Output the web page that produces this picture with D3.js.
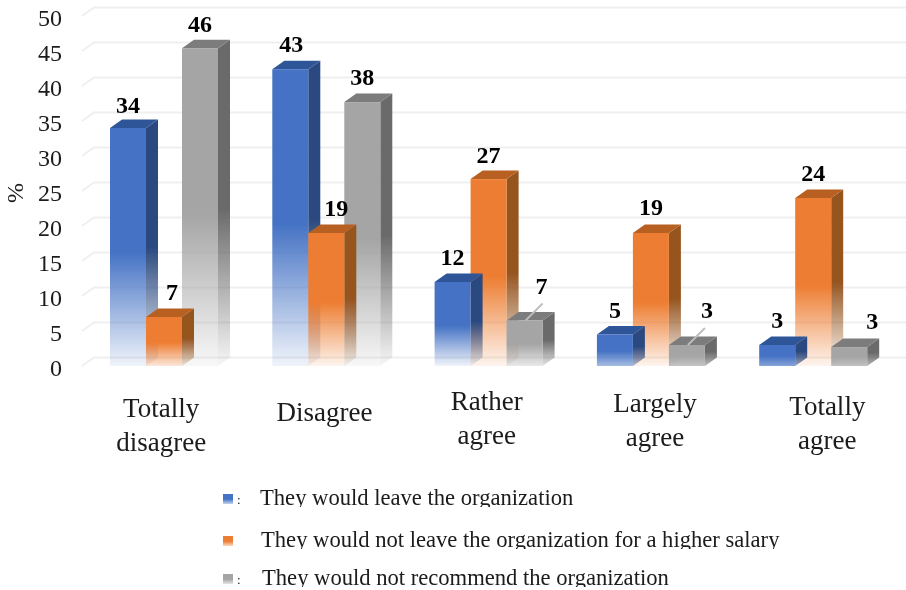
<!DOCTYPE html>
<html>
<head>
<meta charset="utf-8">
<script src="https://cdn.jsdelivr.net/npm/d3@7"></script>
<style>
html,body{margin:0;padding:0;background:#fff;}
svg{display:block;}
text{font-family:"Liberation Serif","Times New Roman",serif;fill:#1a1a1a;}
</style>
</head>
<body>
<svg id="chart" width="906" height="590"></svg>
<script>
const categories = ["Totally disagree", "Disagree", "Rather agree", "Largely agree", "Totally agree"];
const seriesNames = [
  "They would leave the organization",
  "They would not leave the organization for a higher salary",
  "They would not recommend the organization"
];
// heights of the bars as drawn
const leaveValues = [34, 42.4, 12, 4.5, 3];
const stayValues = [7, 19, 26.7, 19, 24];
const recommendValues = [45.4, 37.7, 6.5, 3, 2.7];
// numbers printed above the bars
const leaveLabels = ["34", "43", "12", "5", "3"];
const stayLabels = ["7", "19", "27", "19", "24"];
const recommendLabels = ["46", "38", "7", "3", "3"];
const yTicks = [0, 5, 10, 15, 20, 25, 30, 35, 40, 45, 50];

const seriesValues = [leaveValues, stayValues, recommendValues];
const seriesLabels = [leaveLabels, stayLabels, recommendLabels];

const colors = [
  {front: "#4472c4", side: "#2c4a80", top: "#2f5597"},
  {front: "#ed7d31", side: "#95541f", top: "#b85f22"},
  {front: "#a5a5a5", side: "#6b6b6b", top: "#7c7c7c"}
];
const depthX = 12, depthY = 8.5;

const svg = d3.select("#chart");
const defs = svg.append("defs");
const soft = defs.append("filter").attr("id", "soft")
  .attr("filterUnits", "userSpaceOnUse")
  .attr("x", 0).attr("y", 0).attr("width", 906).attr("height", 590);
soft.append("feGaussianBlur").attr("stdDeviation", 0.5);

function fade(id, color, endOpacity) {
  const g = defs.append("linearGradient").attr("id", id)
    .attr("x1", 0).attr("y1", 0).attr("x2", 0).attr("y2", 1);
  g.append("stop").attr("offset", "52%").attr("stop-color", color).attr("stop-opacity", 1);
  g.append("stop").attr("offset", "100%").attr("stop-color", color).attr("stop-opacity", endOpacity);
  return `url(#${id})`;
}

const root = svg.append("g").attr("filter", "url(#soft)");

const y = d3.scaleLinear().domain([0, 50]).range([366, 16]);
const x = d3.scaleBand().domain(categories).range([83, 894.5]);
const xs = d3.scaleBand().domain(d3.range(3)).range([27, 135]);

// gridlines on the back wall, with a short floor stub
const grid = root.append("g");
yTicks.forEach(t => {
  grid.append("path")
    .attr("d", d3.line()([[82, y(t)], [82 + depthX, y(t) - depthY], [906, y(t) - depthY]]))
    .attr("fill", "none").attr("stroke", "#efefef").attr("stroke-width", 1.8);
});

// y axis
const axis = root.append("g").attr("transform", "translate(68,1.5)")
  .call(d3.axisLeft(y).tickValues(yTicks).tickSize(0).tickPadding(6));
axis.select(".domain").remove();
axis.selectAll("text").attr("font-size", 24)
  .style("font-family", '"Liberation Serif","Times New Roman",serif').attr("fill", "#1a1a1a");

root.append("text").attr("transform", "translate(23,193) rotate(-90)")
  .attr("text-anchor", "middle").attr("font-size", 24).text("%");

// bars: in each group the taller bars are painted first; short bars fade less
categories.forEach((cat, ci) => {
  const order = d3.range(3).sort((a, b) => seriesValues[b][ci] - seriesValues[a][ci]);
  order.forEach(si => {
    const v = seriesValues[si][ci];
    const x0 = x(cat) + xs(si), x1 = x0 + xs.bandwidth();
    const yT = y(v), yB = y(0);
    const endOpacity = Math.max(0.08, 1 - (yB - yT) / 60);
    const frontFill = fade(`front${si}_${ci}`, colors[si].front, endOpacity);
    const sideFill = fade(`side${si}_${ci}`, colors[si].side, endOpacity * 0.7);
    const poly = d3.line();
    root.append("path")
      .attr("d", poly([[x1, yT], [x1 + depthX, yT - depthY], [x1 + depthX, yB - depthY], [x1, yB]]) + "Z")
      .attr("fill", sideFill);
    root.append("path")
      .attr("d", poly([[x0, yT], [x0 + depthX, yT - depthY], [x1 + depthX, yT - depthY], [x1, yT]]) + "Z")
      .attr("fill", colors[si].top);
    root.append("rect")
      .attr("x", x0).attr("y", yT).attr("width", xs.bandwidth()).attr("height", yB - yT)
      .attr("fill", frontFill);
  });
});

// value labels: offset from the middle of the bar's front face
const labelDx = [
  [0, 1, 0, 0, 0],
  [8, 10, 0, 0, 0],
  [0, 0, 17, 20, 23]
];
const labelDy = [
  [-15, -17, -17, -17, -17],
  [-17, -17, -16, -18, -17],
  [-16, -17, -27, -27, -18]
];
categories.forEach((cat, ci) => {
  [0, 1, 2].forEach(si => {
    const cx = x(cat) + xs(si) + xs.bandwidth() / 2;
    root.append("text")
      .attr("x", cx + labelDx[si][ci])
      .attr("y", y(seriesValues[si][ci]) + labelDy[si][ci])
      .attr("text-anchor", "middle").attr("font-size", 24).attr("font-weight", "bold")
      .attr("fill", "#000").style("fill", "#000")
      .text(seriesLabels[si][ci]);
  });
});

// leader lines to the displaced grey labels
[2, 3].forEach(ci => {
  const cx = x(categories[ci]) + xs(2) + xs.bandwidth() / 2;
  const top = y(seriesValues[2][ci]);
  root.append("path")
    .attr("d", d3.line()([[cx + 1, top], [cx + 18, top - 17]]))
    .attr("stroke", "#bdbdbd").attr("stroke-width", 1.8).attr("fill", "none");
});

// category labels
const catDx = [-3, -2, -2, 4, 14];
const catY = [417, 421, 410, 412, 415];
categories.forEach((cat, ci) => {
  const cx = x(cat) + x.bandwidth() / 2 + catDx[ci];
  const words = ci === 1 ? [cat] : cat.split(" ");
  words.forEach((w, wi) => {
    root.append("text").attr("x", cx).attr("y", catY[ci] + wi * 34)
      .attr("text-anchor", "middle").attr("font-size", 27).text(w);
  });
});

// legend: the descenders of its lines are cut off in the reference
const legendY = [505, 547, 585];
const legendX = [260, 261, 262];
seriesNames.forEach((name, i) => {
  const by = legendY[i];
  const clipId = "legendClip" + i;
  defs.append("clipPath").attr("id", clipId).append("rect")
    .attr("x", 200).attr("y", by - 24).attr("width", 620).attr("height", 26);
  root.append("rect").attr("x", 223).attr("y", by - 11).attr("width", 10).attr("height", 10)
    .attr("fill", fade("legend" + i, colors[i].front, 0.3));
  if (i !== 1) {
    root.append("text").attr("x", 237).attr("y", by - 1).attr("font-size", 13).text(":");
  }
  root.append("text").attr("x", legendX[i]).attr("y", by).attr("font-size", 22.6)
    .attr("clip-path", `url(#${clipId})`).text(name);
});
</script>
</body>
</html>
